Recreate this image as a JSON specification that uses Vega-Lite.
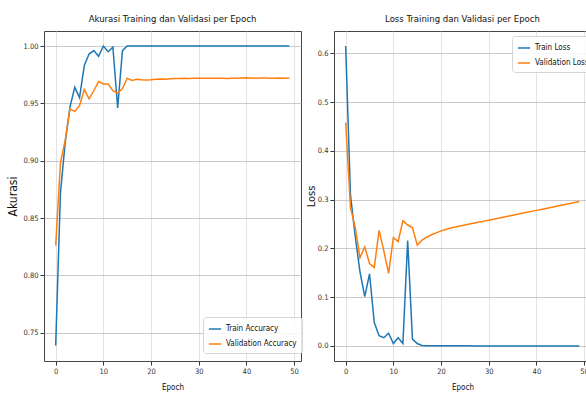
{
  "$schema": "https://vega.github.io/schema/vega-lite/v6.json",
  "background": "white",
  "padding": {"left": 6, "top": 13, "right": 0, "bottom": 2},
  "spacing": 1,
  "datasets": {
    "d": [
      {"epoch": 0, "ta": 0.739, "va": 0.826, "tl": 0.615, "vl": 0.458},
      {"epoch": 1, "ta": 0.872, "va": 0.898, "tl": 0.31, "vl": 0.284},
      {"epoch": 2, "ta": 0.916, "va": 0.918, "tl": 0.225, "vl": 0.243},
      {"epoch": 3, "ta": 0.947, "va": 0.945, "tl": 0.152, "vl": 0.181},
      {"epoch": 4, "ta": 0.964, "va": 0.943, "tl": 0.101, "vl": 0.203},
      {"epoch": 5, "ta": 0.955, "va": 0.948, "tl": 0.148, "vl": 0.169},
      {"epoch": 6, "ta": 0.983, "va": 0.962, "tl": 0.048, "vl": 0.161},
      {"epoch": 7, "ta": 0.993, "va": 0.954, "tl": 0.021, "vl": 0.237},
      {"epoch": 8, "ta": 0.996, "va": 0.961, "tl": 0.017, "vl": 0.195},
      {"epoch": 9, "ta": 0.991, "va": 0.969, "tl": 0.026, "vl": 0.149},
      {"epoch": 10, "ta": 1.0, "va": 0.967, "tl": 0.005, "vl": 0.222},
      {"epoch": 11, "ta": 0.995, "va": 0.967, "tl": 0.017, "vl": 0.214},
      {"epoch": 12, "ta": 0.999, "va": 0.961, "tl": 0.005, "vl": 0.257},
      {"epoch": 13, "ta": 0.946, "va": 0.959, "tl": 0.216, "vl": 0.248},
      {"epoch": 14, "ta": 0.996, "va": 0.963, "tl": 0.014, "vl": 0.243},
      {"epoch": 15, "ta": 1.0, "va": 0.972, "tl": 0.005, "vl": 0.207},
      {"epoch": 16, "ta": 1.0, "va": 0.970, "tl": 0.0012, "vl": 0.217},
      {"epoch": 17, "ta": 1.0, "va": 0.971, "tl": 0.0006, "vl": 0.223},
      {"epoch": 18, "ta": 1.0, "va": 0.9705, "tl": 0.0005, "vl": 0.228},
      {"epoch": 19, "ta": 1.0, "va": 0.9703, "tl": 0.0004, "vl": 0.232},
      {"epoch": 20, "ta": 1.0, "va": 0.9706, "tl": 0.0004, "vl": 0.236},
      {"epoch": 21, "ta": 1.0, "va": 0.971, "tl": 0.0004, "vl": 0.239},
      {"epoch": 22, "ta": 1.0, "va": 0.9712, "tl": 0.0003, "vl": 0.242},
      {"epoch": 23, "ta": 1.0, "va": 0.971, "tl": 0.0003, "vl": 0.244},
      {"epoch": 24, "ta": 1.0, "va": 0.9714, "tl": 0.0003, "vl": 0.246},
      {"epoch": 25, "ta": 1.0, "va": 0.9716, "tl": 0.0003, "vl": 0.248},
      {"epoch": 26, "ta": 1.0, "va": 0.9716, "tl": 0.0003, "vl": 0.25},
      {"epoch": 27, "ta": 1.0, "va": 0.9718, "tl": 0.0002, "vl": 0.252},
      {"epoch": 28, "ta": 1.0, "va": 0.9716, "tl": 0.0002, "vl": 0.254},
      {"epoch": 29, "ta": 1.0, "va": 0.9719, "tl": 0.0002, "vl": 0.256},
      {"epoch": 30, "ta": 1.0, "va": 0.972, "tl": 0.0002, "vl": 0.258},
      {"epoch": 31, "ta": 1.0, "va": 0.9718, "tl": 0.0002, "vl": 0.26},
      {"epoch": 32, "ta": 1.0, "va": 0.972, "tl": 0.0002, "vl": 0.262},
      {"epoch": 33, "ta": 1.0, "va": 0.9718, "tl": 0.0002, "vl": 0.264},
      {"epoch": 34, "ta": 1.0, "va": 0.972, "tl": 0.0002, "vl": 0.266},
      {"epoch": 35, "ta": 1.0, "va": 0.9718, "tl": 0.0001, "vl": 0.268},
      {"epoch": 36, "ta": 1.0, "va": 0.9716, "tl": 0.0001, "vl": 0.27},
      {"epoch": 37, "ta": 1.0, "va": 0.9719, "tl": 0.0001, "vl": 0.272},
      {"epoch": 38, "ta": 1.0, "va": 0.972, "tl": 0.0001, "vl": 0.274},
      {"epoch": 39, "ta": 1.0, "va": 0.9722, "tl": 0.0001, "vl": 0.276},
      {"epoch": 40, "ta": 1.0, "va": 0.9724, "tl": 0.0001, "vl": 0.278},
      {"epoch": 41, "ta": 1.0, "va": 0.9722, "tl": 0.0001, "vl": 0.28},
      {"epoch": 42, "ta": 1.0, "va": 0.972, "tl": 0.0001, "vl": 0.282},
      {"epoch": 43, "ta": 1.0, "va": 0.9722, "tl": 0.0001, "vl": 0.284},
      {"epoch": 44, "ta": 1.0, "va": 0.9721, "tl": 0.0001, "vl": 0.286},
      {"epoch": 45, "ta": 1.0, "va": 0.9719, "tl": 0.0001, "vl": 0.288},
      {"epoch": 46, "ta": 1.0, "va": 0.972, "tl": 0.0001, "vl": 0.29},
      {"epoch": 47, "ta": 1.0, "va": 0.9722, "tl": 0.0001, "vl": 0.292},
      {"epoch": 48, "ta": 1.0, "va": 0.972, "tl": 0.0001, "vl": 0.294},
      {"epoch": 49, "ta": 1.0, "va": 0.9721, "tl": 0.0001, "vl": 0.296}
    ]
  },
  "hconcat": [
    {
      "width": 257,
      "height": 330,
      "data": {"name": "d"},
      "title": {"text": "Akurasi Training dan Validasi per Epoch"},
      "transform": [{"fold": ["ta", "va"], "as": ["series", "value"]}],
      "mark": {"type": "line", "strokeWidth": 1.5, "clip": true},
      "encoding": {
        "x": {"field": "epoch", "type": "quantitative",
              "scale": {"domain": [-2.45, 51.45], "nice": false, "zero": false},
              "axis": {"values": [0, 10, 20, 30, 40, 50], "title": "Epoch"}},
        "y": {"field": "value", "type": "quantitative",
              "scale": {"domain": [0.7254, 1.0131], "nice": false, "zero": false},
              "axis": {"values": [0.75, 0.8, 0.85, 0.9, 0.95, 1.0], "format": ".2f", "title": "Akurasi", "titleFontSize": 12}},
        "color": {"field": "series", "type": "nominal",
                  "scale": {"domain": ["ta", "va"], "range": ["#1f77b4", "#ff7f0e"]},
                  "legend": {"title": null, "orient": "none", "legendX": 159, "legendY": 286,
                             "labelExpr": "datum.label == 'ta' ? 'Train Accuracy' : 'Validation Accuracy'"}}
      }
    },
    {
      "width": 257,
      "height": 330,
      "data": {"name": "d"},
      "title": {"text": "Loss Training dan Validasi per Epoch"},
      "transform": [{"fold": ["tl", "vl"], "as": ["series", "value"]}],
      "mark": {"type": "line", "strokeWidth": 1.5, "clip": true},
      "encoding": {
        "x": {"field": "epoch", "type": "quantitative",
              "scale": {"domain": [-2.45, 51.45], "nice": false, "zero": false},
              "axis": {"values": [0, 10, 20, 30, 40, 50], "title": "Epoch"}},
        "y": {"field": "value", "type": "quantitative",
              "scale": {"domain": [-0.0308, 0.6458], "nice": false, "zero": false},
              "axis": {"values": [0, 0.1, 0.2, 0.3, 0.4, 0.5, 0.6], "format": ".1f", "title": "Loss", "titleFontSize": 11, "titlePadding": 1}},
        "color": {"field": "series", "type": "nominal",
                  "scale": {"domain": ["tl", "vl"], "range": ["#1f77b4", "#ff7f0e"]},
                  "legend": {"title": null, "orient": "none", "legendX": 178, "legendY": 5,
                             "labelExpr": "datum.label == 'tl' ? 'Train Loss' : 'Validation Loss'"}}
      }
    }
  ],
  "resolve": {"scale": {"color": "independent"}, "legend": {"color": "independent"}},
  "config": {
    "font": "'DejaVu Sans Condensed', 'Liberation Sans Narrow', sans-serif",
    "view": {"stroke": "#444", "strokeWidth": 1},
    "axis": {
      "labelFont": "'DejaVu Sans Condensed', 'Liberation Sans Narrow', sans-serif",
      "titleFont": "'DejaVu Sans Condensed', 'Liberation Sans Narrow', sans-serif",
      "labelFontSize": 7.5,
      "labelColor": "#333",
      "titleFontWeight": "normal",
      "titleColor": "#111",
      "tickColor": "#333",
      "tickSize": 4,
      "labelPadding": 2,
      "domain": false,
      "grid": true,
      "gridColor": "#bcbcbc",
      "gridWidth": 0.8
    },
    "axisX": {"titleFontSize": 8, "titlePadding": 9, "gridColor": "#dadada"},
    "axisY": {"titlePadding": 3},
    "title": {"font": "'DejaVu Sans Condensed', 'Liberation Sans Narrow', sans-serif", "fontSize": 9.5, "fontWeight": "normal", "color": "#111", "offset": 8},
    "legend": {
      "labelFont": "'DejaVu Sans Condensed', 'Liberation Sans Narrow', sans-serif",
      "labelFontSize": 8,
      "labelColor": "#111",
      "symbolType": "stroke",
      "symbolStrokeWidth": 1.5,
      "symbolSize": 150,
      "strokeColor": "#d5d5d5",
      "fillColor": "rgba(255,255,255,0.85)",
      "cornerRadius": 3,
      "padding": 5,
      "rowPadding": 4
    }
  }
}
